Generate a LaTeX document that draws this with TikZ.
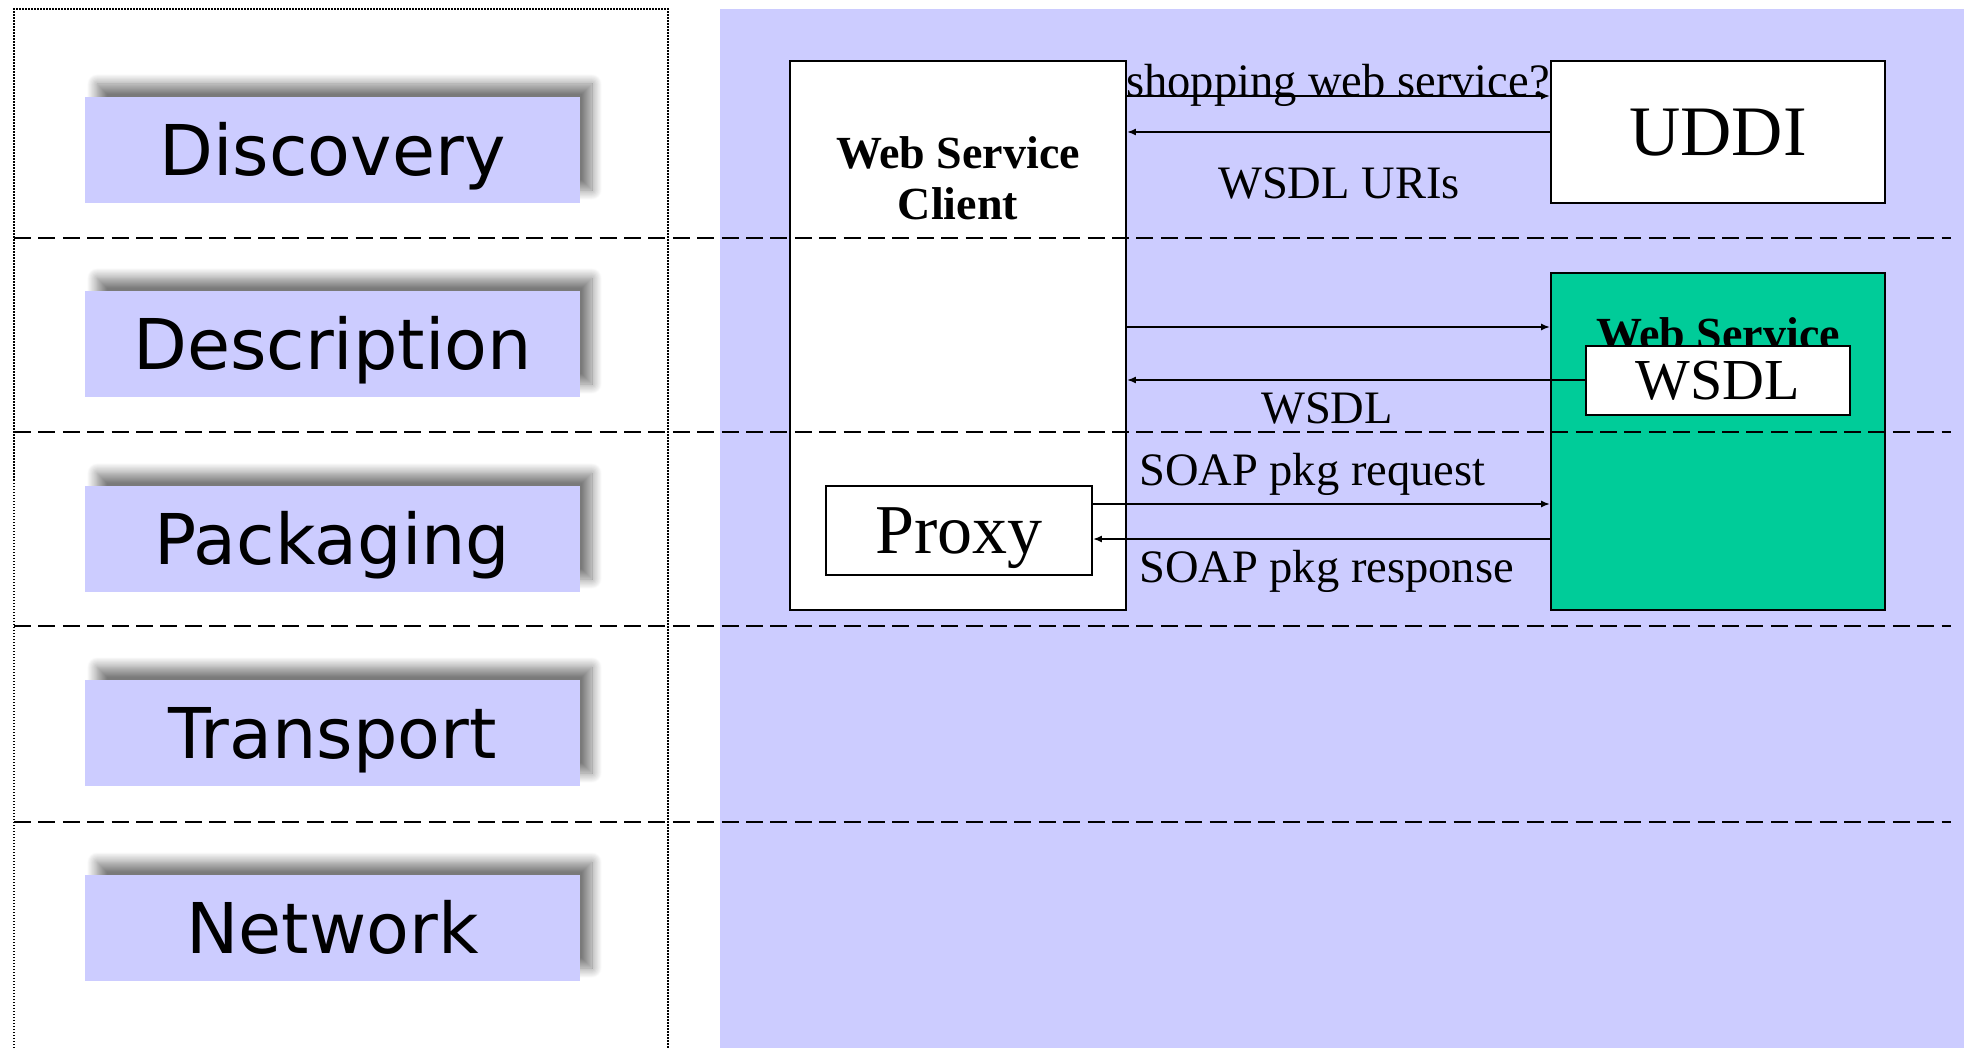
\documentclass[tikz,border=0pt]{standalone}
\usepackage{fontspec}
\setmainfont{Liberation Serif}
\newfontfamily\layerfont{DejaVu Sans}
\usetikzlibrary{shadows.blur,arrows.meta}
\definecolor{lav}{HTML}{CCCCFF}
\definecolor{wsgreen}{HTML}{00CC99}
\begin{document}
\begin{tikzpicture}[x=1pt,y=-1pt,
  layerbox/.style={fill=lav, minimum width=495pt, minimum height=106pt, inner sep=0pt,
    text height=51pt, text depth=0pt, font=\layerfont\fontsize{70}{84}\selectfont,
    blur shadow={shadow xshift=12pt, shadow yshift=13pt, shadow blur radius=10pt,
      shadow blur steps=14, shadow opacity=52}},
  wbox/.style={draw=black, fill=white, line width=1.8pt, inner sep=0pt},
  conn/.style={line width=1.8pt, -{Latex[length=9pt,width=7pt]}},
  sepline/.style={line width=2.4pt, dash pattern=on 17pt off 7.4pt},
  lbl/.style={font=\fontsize{46.5}{46.5}\selectfont, inner sep=0pt},
  blbl/.style={font=\bfseries\fontsize{46}{51}\selectfont, inner sep=0pt, align=center},
]
\useasboundingbox (0,0) rectangle (1964,1048);
% backgrounds
\fill[lav] (720,9) rectangle (1964,1060);
\draw[line width=1.5pt, dash pattern=on 1.5pt off 1.5pt] (14,1060) -- (14,9) -- (668,9) -- (668,1060);
% layer boxes
\node[layerbox] (disc) at (332.5,150) {Discovery};
\node[layerbox] (desc) at (332.5,344) {Description};
\node[layerbox] (pack) at (332.5,539) {Packaging};
\node[layerbox] (trans) at (332.5,733) {Transport};
\node[layerbox] (net) at (332.5,928) {Network};
% client
\node[wbox, minimum width=336pt, minimum height=549pt] (client) at (958,335.5) {};
\node[blbl] (clienttitle) at (958,178) {Web Service\\Client};
\node[wbox, minimum width=266pt, minimum height=89pt, text height=46pt, text depth=0pt,
  font=\fontsize{70}{70}\selectfont] (proxy) at (959,530.5) {Proxy};
% UDDI
\node[wbox, minimum width=334pt, minimum height=142pt, text height=47pt, text depth=0pt,
  font=\fontsize{71}{71}\selectfont] (uddi) at (1718,132) {UDDI};
% web service
\node[wbox, fill=wsgreen, minimum width=334pt, minimum height=337pt] (ws) at (1718,441.5) {};
\node[blbl, anchor=base] (wstitle) at (1718,349) {Web Service};
\node[wbox, minimum width=264pt, minimum height=69pt, text height=38pt, text depth=0pt,
  font=\fontsize{58}{58}\selectfont] (wsdl) at (1718,380.5) {WSDL};
% connector rows
\coordinate (r1) at (0,96);
\coordinate (r2) at (0,132);
\coordinate (r3) at (0,327);
\coordinate (r4) at (0,380);
\coordinate (r5) at (0,504);
\coordinate (r6) at (0,539);
\draw[conn] (client.east |- r1) -- (uddi.west |- r1);
\draw[conn] (uddi.west |- r2) -- (client.east |- r2);
\draw[conn] (client.east |- r3) -- (ws.west |- r3);
\draw[conn] (wsdl.west |- r4) -- (client.east |- r4);
\draw[conn] (proxy.east |- r5) -- (ws.west |- r5);
\draw[conn] (ws.west |- r6) -- (proxy.east |- r6);
% labels
\node[lbl, anchor=base] (l1) at (1338,97) {shopping web service?};
\node[lbl, anchor=base] (l2) at (1339,199) {WSDL URIs};
\node[lbl, anchor=base] (l3) at (1327,423) {WSDL};
\node[lbl, anchor=base west] (l4) at (1139,485) {SOAP pkg request};
\node[lbl, anchor=base west] (l5) at (1139,582) {SOAP pkg response};
% separators
\foreach \yy in {238,432,626,822} \draw[sepline] (14,\yy) -- (1951,\yy);
\end{tikzpicture}
\end{document}
